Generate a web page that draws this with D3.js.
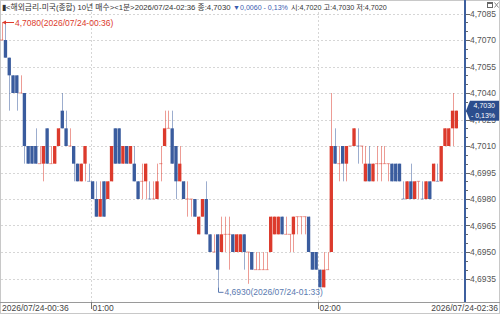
<!DOCTYPE html>
<html>
<head>
<meta charset="utf-8">
<script src="https://cdn.jsdelivr.net/npm/d3@7"></script>
<style>
  html, body { margin: 0; padding: 0; background: #fff; }
  svg { display: block; }
  text { font-family: "Liberation Sans", "Noto Sans CJK KR", sans-serif; }
</style>
</head>
<body>
<svg id="chart" width="500" height="314"></svg>
<script>
// 1-minute candles, 00:36 .. 02:36
const opens = [
  4.7070, 4.7070, 4.7060, 4.7050, 4.7050, 4.7040, 4.7040, 4.7010, 4.7010, 4.7010,
  4.7000, 4.7000, 4.7020, 4.7000, 4.7000, 4.7010, 4.7030, 4.7020, 4.7010, 4.7010,
  4.7000, 4.6990, 4.7000, 4.6990, 4.6990, 4.6980, 4.6970, 4.6990, 4.6980, 4.6990,
  4.7020, 4.7020, 4.7000, 4.7010, 4.7000, 4.7000, 4.6990, 4.6990, 4.6990, 4.6980,
  4.6980, 4.6980, 4.7000, 4.7010, 4.7020, 4.7020, 4.7010, 4.6990, 4.6990, 4.6980,
  4.6980, 4.6980, 4.6960, 4.6970, 4.6980, 4.6960, 4.6950, 4.6960, 4.6950, 4.6960,
  4.6960, 4.6960, 4.6950, 4.6950, 4.6960, 4.6950, 4.6950, 4.6940, 4.6940, 4.6940,
  4.6940, 4.6950, 4.6960, 4.6960, 4.6970, 4.6960, 4.6960, 4.6960, 4.6970, 4.6970,
  4.6970, 4.6970, 4.6950, 4.6950, 4.6940, 4.6930, 4.6940, 4.6950, 4.7010, 4.7000,
  4.7010, 4.7000, 4.7010, 4.7010, 4.7010, 4.7010, 4.6990, 4.7000, 4.6990, 4.7000,
  4.7000, 4.7000, 4.7000, 4.7000, 4.7000, 4.7000, 4.6980, 4.6980, 4.6990, 4.6980,
  4.6990, 4.6980, 4.6980, 4.6990, 4.6990, 4.6990, 4.6990, 4.7010, 4.7010, 4.7020,
  4.7020
];
const highs = [
  4.7080, 4.7080, 4.7060, 4.7050, 4.7050, 4.7050, 4.7040, 4.7010, 4.7010, 4.7020,
  4.7010, 4.7010, 4.7020, 4.7010, 4.7010, 4.7020, 4.7040, 4.7030, 4.7020, 4.7010,
  4.7000, 4.7000, 4.7010, 4.7000, 4.6990, 4.6990, 4.6990, 4.6990, 4.6990, 4.7010,
  4.7020, 4.7020, 4.7010, 4.7010, 4.7010, 4.7010, 4.6990, 4.7000, 4.7000, 4.6990,
  4.6990, 4.7000, 4.7010, 4.7030, 4.7030, 4.7030, 4.7010, 4.7010, 4.6990, 4.6990,
  4.6980, 4.6980, 4.6970, 4.6980, 4.6990, 4.6960, 4.6960, 4.6960, 4.6970, 4.6970,
  4.6970, 4.6960, 4.6960, 4.6960, 4.6960, 4.6950, 4.6950, 4.6950, 4.6950, 4.6950,
  4.6950, 4.6970, 4.6970, 4.6970, 4.6970, 4.6970, 4.6960, 4.6970, 4.6970, 4.6970,
  4.6970, 4.6970, 4.6950, 4.6950, 4.6940, 4.6950, 4.6950, 4.7040, 4.7020, 4.7010,
  4.7010, 4.7010, 4.7010, 4.7020, 4.7020, 4.7010, 4.7010, 4.7010, 4.7000, 4.7010,
  4.7010, 4.7010, 4.7000, 4.7000, 4.7000, 4.7000, 4.6990, 4.6990, 4.7000, 4.6990,
  4.6990, 4.6990, 4.6990, 4.6990, 4.7000, 4.7000, 4.7010, 4.7020, 4.7020, 4.7040,
  4.7030
];
const lows = [
  4.7070, 4.7060, 4.7030, 4.7040, 4.7030, 4.7040, 4.7000, 4.7000, 4.7000, 4.7000,
  4.7000, 4.6990, 4.7000, 4.7000, 4.7000, 4.7010, 4.7020, 4.7010, 4.7010, 4.6990,
  4.6990, 4.6990, 4.6990, 4.6990, 4.6980, 4.6970, 4.6970, 4.6970, 4.6980, 4.6990,
  4.7000, 4.7000, 4.7000, 4.7000, 4.7000, 4.6990, 4.6980, 4.6980, 4.6980, 4.6980,
  4.6980, 4.6980, 4.6990, 4.7010, 4.7020, 4.7000, 4.6980, 4.6990, 4.6980, 4.6970,
  4.6970, 4.6970, 4.6960, 4.6970, 4.6960, 4.6950, 4.6950, 4.6930, 4.6950, 4.6950,
  4.6940, 4.6950, 4.6950, 4.6950, 4.6940, 4.6932, 4.6940, 4.6940, 4.6940, 4.6940,
  4.6940, 4.6950, 4.6960, 4.6960, 4.6960, 4.6960, 4.6950, 4.6950, 4.6960, 4.6960,
  4.6960, 4.6950, 4.6940, 4.6940, 4.6930, 4.6930, 4.6940, 4.6950, 4.7000, 4.6990,
  4.6990, 4.6990, 4.7010, 4.7010, 4.7000, 4.7000, 4.6990, 4.6990, 4.6990, 4.6990,
  4.6990, 4.7000, 4.6990, 4.6990, 4.6990, 4.6990, 4.6980, 4.6980, 4.6980, 4.6980,
  4.6980, 4.6980, 4.6980, 4.6980, 4.6990, 4.6990, 4.6990, 4.7010, 4.7010, 4.7010,
  4.7020
];
const closes = [
  4.7070, 4.7060, 4.7050, 4.7040, 4.7040, 4.7040, 4.7010, 4.7000, 4.7000, 4.7000,
  4.7000, 4.7010, 4.7000, 4.7000, 4.7010, 4.7020, 4.7020, 4.7010, 4.7010, 4.7000,
  4.6990, 4.7000, 4.7010, 4.6990, 4.6980, 4.6970, 4.6980, 4.6970, 4.6990, 4.7010,
  4.7000, 4.7000, 4.7010, 4.7000, 4.7010, 4.6990, 4.6980, 4.6990, 4.7000, 4.6980,
  4.6980, 4.6990, 4.7000, 4.7020, 4.7020, 4.7000, 4.6990, 4.7000, 4.6980, 4.6980,
  4.6980, 4.6970, 4.6970, 4.6980, 4.6960, 4.6950, 4.6950, 4.6940, 4.6960, 4.6960,
  4.6960, 4.6950, 4.6960, 4.6960, 4.6950, 4.6950, 4.6940, 4.6940, 4.6940, 4.6940,
  4.6940, 4.6970, 4.6970, 4.6970, 4.6960, 4.6960, 4.6960, 4.6970, 4.6970, 4.6970,
  4.6970, 4.6950, 4.6940, 4.6940, 4.6930, 4.6940, 4.6940, 4.7010, 4.7000, 4.7000,
  4.7000, 4.7010, 4.7010, 4.7020, 4.7010, 4.7010, 4.7000, 4.6990, 4.7000, 4.7000,
  4.7000, 4.7000, 4.7000, 4.6990, 4.6990, 4.6990, 4.6980, 4.6990, 4.6980, 4.6990,
  4.6990, 4.6980, 4.6990, 4.6980, 4.7000, 4.6990, 4.7010, 4.7020, 4.7020, 4.7030,
  4.7030
];

const yTicks = [4.7085, 4.7070, 4.7055, 4.7040, 4.7025, 4.7010, 4.6995, 4.6980, 4.6965, 4.6950, 4.6935];
const xTickIdx = [24, 84];
const xTickLabels = ["01:00", "02:00"];
const firstLabel = "2026/07/24-00:36";
const lastLabel = "2026/07/24-02:36";

const UP = "#dc3a2c", DOWN = "#3a5c9e", AXIS = "#3d5f9e";
const fmt = v => d3.format(".4f")(v).replace(".", ",");

const svg = d3.select("#chart");
const plotRight = 465, plotBottom = 302;

const x = d3.scaleBand().domain(d3.range(opens.length)).range([0, 458]).paddingInner(0.12);
const y = d3.scaleLinear().domain([4.6935, 4.7085]).range([278.5, 13.5]);

// borders
svg.append("rect").attr("x", 0.5).attr("y", 0.5).attr("width", 499).attr("height", 313)
  .attr("fill", "none").attr("stroke", "#c8c8c8");

// grid
const grid = svg.append("g").attr("stroke", "#d6d6d6").attr("stroke-dasharray", "2,2");
grid.selectAll("line.h").data(yTicks).join("line")
  .attr("x1", 1).attr("x2", plotRight).attr("y1", d => Math.round(y(d)) + 0.5).attr("y2", d => Math.round(y(d)) + 0.5);
grid.selectAll("line.v").data(xTickIdx).join("line")
  .attr("x1", d => Math.round(x(d)) + 0.5).attr("x2", d => Math.round(x(d)) + 0.5)
  .attr("y1", 12).attr("y2", plotBottom);

// candles
const candles = svg.append("g");
const colorOf = i => {
  if (closes[i] > opens[i]) return UP;
  if (closes[i] < opens[i]) return DOWN;
  return (i > 0 && closes[i] < closes[i - 1]) ? DOWN : UP;
};
d3.range(opens.length).forEach(i => {
  const c = colorOf(i);
  const cx = Math.round(x(i) + x.bandwidth() / 2) + 0.5;
  candles.append("line").attr("x1", cx).attr("x2", cx)
    .attr("y1", y(highs[i])).attr("y2", y(lows[i]))
    .attr("stroke", c).attr("stroke-opacity", 0.5);
  const top = y(Math.max(opens[i], closes[i])), bot = y(Math.min(opens[i], closes[i]));
  if (bot - top < 1) {
    candles.append("line").attr("x1", x(i)).attr("x2", x(i) + x.bandwidth())
      .attr("y1", top).attr("y2", top).attr("stroke", c).attr("stroke-opacity", 0.5);
  } else {
    candles.append("rect").attr("x", x(i)).attr("width", x.bandwidth())
      .attr("y", top).attr("height", bot - top).attr("fill", c);
  }
});

// y axis with major and minor ticks
svg.append("line").attr("x1", plotRight).attr("x2", plotRight).attr("y1", 0).attr("y2", plotBottom)
  .attr("stroke", AXIS).attr("stroke-width", 2);
const minor = d3.range(0, 31).map(k => 4.7085 - k * 0.0005);
svg.append("g").attr("stroke", "#666").selectAll("line").data(minor).join("line")
  .attr("x1", 466).attr("x2", d => yTicks.some(t => Math.abs(t - d) < 1e-6) ? 470 : 468)
  .attr("y1", d => Math.round(y(d)) + 0.5).attr("y2", d => Math.round(y(d)) + 0.5);
const yl = svg.append("g").attr("font-size", 8.5).attr("fill", "#555");
yl.selectAll("text").data(yTicks).join("text")
  .attr("x", 470).attr("y", d => y(d) + 3).text(d => fmt(d));

// x axis
svg.append("line").attr("x1", 0).attr("x2", 500).attr("y1", plotBottom + 0.5).attr("y2", plotBottom + 0.5)
  .attr("stroke", "#9a9a9a");
const xl = svg.append("g").attr("font-size", 8.5).attr("fill", "#444");
xl.append("text").attr("x", 2).attr("y", 311).text(firstLabel);
xl.append("text").attr("x", 498).attr("y", 311).attr("text-anchor", "end").text(lastLabel);
xTickIdx.forEach((d, k) => {
  const tx = Math.round(x(d)) + 0.5;
  xl.append("line").attr("x1", tx).attr("x2", tx).attr("y1", plotBottom).attr("y2", plotBottom + 7).attr("stroke", "#777");
  xl.append("text").attr("x", tx + 1).attr("y", 311).text(xTickLabels[k]);
});

// high / low annotations
const hiIdx = highs.indexOf(d3.max(highs));
const hy = Math.round(y(highs[hiIdx])) + 0.5;
const ann = svg.append("g").attr("font-size", 8.5);
ann.append("line").attr("x1", 3).attr("x2", 14).attr("y1", hy).attr("y2", hy).attr("stroke", UP);
ann.append("path").attr("d", `M2,${hy} l4,-2 v4 z`).attr("fill", UP);
ann.append("text").attr("x", 15).attr("y", hy + 3).attr("fill", UP).text(fmt(highs[hiIdx]) + "(2026/07/24-00:36)");
const lx = Math.round(x(57) + x.bandwidth() / 2) + 0.5, ly = y(lows[57]);
ann.append("path").attr("d", `M${lx},${ly} V${ly + 5} H${lx + 5}`).attr("fill", "none").attr("stroke", "#5a7ab0");
ann.append("text").attr("x", lx + 6).attr("y", ly + 8).attr("fill", "#5a7ab0").text(fmt(lows[57]) + "(2026/07/24-01:33)");

// current price tag
const last = closes[closes.length - 1];
const py = y(last);
svg.append("path").attr("d", `M466,${py} L470,${py - 10} H499 V${py + 10} H470 Z`).attr("fill", "#2b4d8d");
svg.append("text").attr("x", 495).attr("y", py - 3).attr("text-anchor", "end").attr("font-size", 7).attr("fill", "#fff").text(fmt(last));
svg.append("text").attr("x", 495).attr("y", py + 7.5).attr("text-anchor", "end").attr("font-size", 7).attr("fill", "#fff").text("- 0,13%");

// header, in three pieces placed where the reference puts them; font sized to fit
const hdrParts = [
  { x0: 2, x1: 231, fill: "#333", text: "▮<해외금리-미국(종합) 10년 매수><1분>2026/07/24-02:36 종:" + fmt(last) },
  { x0: 233, x1: 288, fill: "#3a5cb0", text: "▼0,0060 - 0,13%" },
  { x0: 291, x1: 387, fill: "#333", text: "시:" + fmt(opens[120]) + " 고:" + fmt(highs[120]) + " 저:" + fmt(lows[120]) }
];
svg.append("g").style("font-family", "'Noto Sans CJK KR', sans-serif")
  .selectAll("text").data(hdrParts).join("text")
  .attr("x", d => d.x0).attr("y", 10).attr("fill", d => d.fill)
  .attr("font-size", 9)
  .text(d => d.text)
  .each(function (d) {
    const w = this.getComputedTextLength();
    d3.select(this).attr("font-size", Math.min(9, 9 * (d.x1 - d.x0) / w));
  });

// window buttons
svg.append("rect").attr("x", 487.5).attr("y", 2.5).attr("width", 5).attr("height", 5).attr("fill", "none").attr("stroke", "#666");
svg.append("rect").attr("x", 487.5).attr("y", 2.5).attr("width", 5).attr("height", 1.5).attr("fill", "#666");
svg.append("path").attr("d", "M494.5,2.5 l4,5 M498.5,2.5 l-4,5").attr("stroke", "#888");
</script>
</body>
</html>
